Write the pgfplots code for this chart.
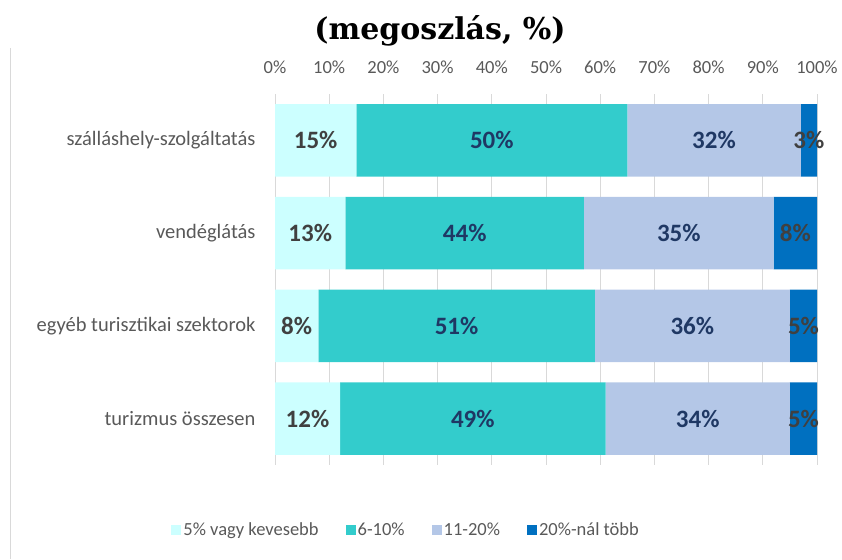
\documentclass[border=0pt]{standalone}
\usepackage{fontspec}
\setmainfont{Carlito}
\newfontfamily\titlefont{DejaVu Serif}
\usepackage{pgfplots}
\pgfplotsset{compat=1.18}
\definecolor{cA}{HTML}{CCFFFF}
\definecolor{cB}{HTML}{33CCCC}
\definecolor{cC}{HTML}{B4C7E7}
\definecolor{cD}{HTML}{0070C0}
\definecolor{labgrey}{HTML}{404040}
\definecolor{labnavy}{HTML}{1F3864}
\definecolor{txtgrey}{HTML}{595959}
\definecolor{gridc}{HTML}{D9D9D9}
\begin{document}
\begin{tikzpicture}[x=1pt,y=1pt]
\useasboundingbox (0,0) rectangle (842,559);
\draw[gridc, line width=1pt] (10,0) -- (10,511);
\node[font=\titlefont\bfseries\fontsize{30}{32}\selectfont] at (440,528) {(megoszlás, \%)};
\begin{axis}[
  at={(275pt,94pt)}, anchor=south west,
  scale only axis, width=542pt, height=371pt,
  xbar stacked, bar width=0.78,
  xmin=0, xmax=100, ymin=-0.5, ymax=3.5, y dir=reverse,
  axis x line*=top, axis y line*=left,
  x axis line style={draw=none},
  y axis line style={draw=gridc, line width=1pt},
  xtick={0,10,...,100},
  xticklabel={\pgfmathprintnumber{\tick}\%},
  ytick={0,1,2,3},
  yticklabels={szálláshely-szolgáltatás, vendéglátás, egyéb turisztikai szektorok, turizmus összesen},
  major tick length=0pt,
  xmajorgrids, grid style={draw=gridc, line width=1pt},
  xticklabel style={font=\fontsize{18.5}{20}\selectfont, text=txtgrey, yshift=17pt},
  yticklabel style={font=\fontsize{20.5}{22}\selectfont, text=txtgrey, xshift=-16pt},
  /pgf/number format/assume math mode=true,
  nodes near coords={\pgfplotspointmeta\%},
  point meta=explicit symbolic,
  every node near coord/.style={anchor=center, font=\bfseries\fontsize{25}{27}\selectfont},
  legend columns=4,
  legend style={at={(0.242,-0.176)}, anchor=center, draw=none, fill=none,
    nodes={font=\fontsize{18.5}{20}\selectfont, text=txtgrey},
    /tikz/every even column/.append style={column sep=25pt}},
  legend image code/.code={\fill[#1] (0pt,-5pt) rectangle (10pt,5pt);},
]
\addplot[fill=cA, draw=none, every node near coord/.append style={text=labgrey}] coordinates {(15,0) [15] (13,1) [13] (8,2) [8] (12,3) [12]};
\addplot[fill=cB, draw=none, every node near coord/.append style={text=labnavy}] coordinates {(50,0) [50] (44,1) [44] (51,2) [51] (49,3) [49]};
\addplot[fill=cC, draw=none, every node near coord/.append style={text=labnavy}] coordinates {(32,0) [32] (35,1) [35] (36,2) [36] (34,3) [34]};
\addplot[fill=cD, draw=none, every node near coord/.append style={text=labgrey}] coordinates {(3,0) [3] (8,1) [8] (5,2) [5] (5,3) [5]};
\legend{5\% vagy kevesebb, 6-10\%, 11-20\%, 20\%-nál több}
\end{axis}
\end{tikzpicture}
\end{document}
